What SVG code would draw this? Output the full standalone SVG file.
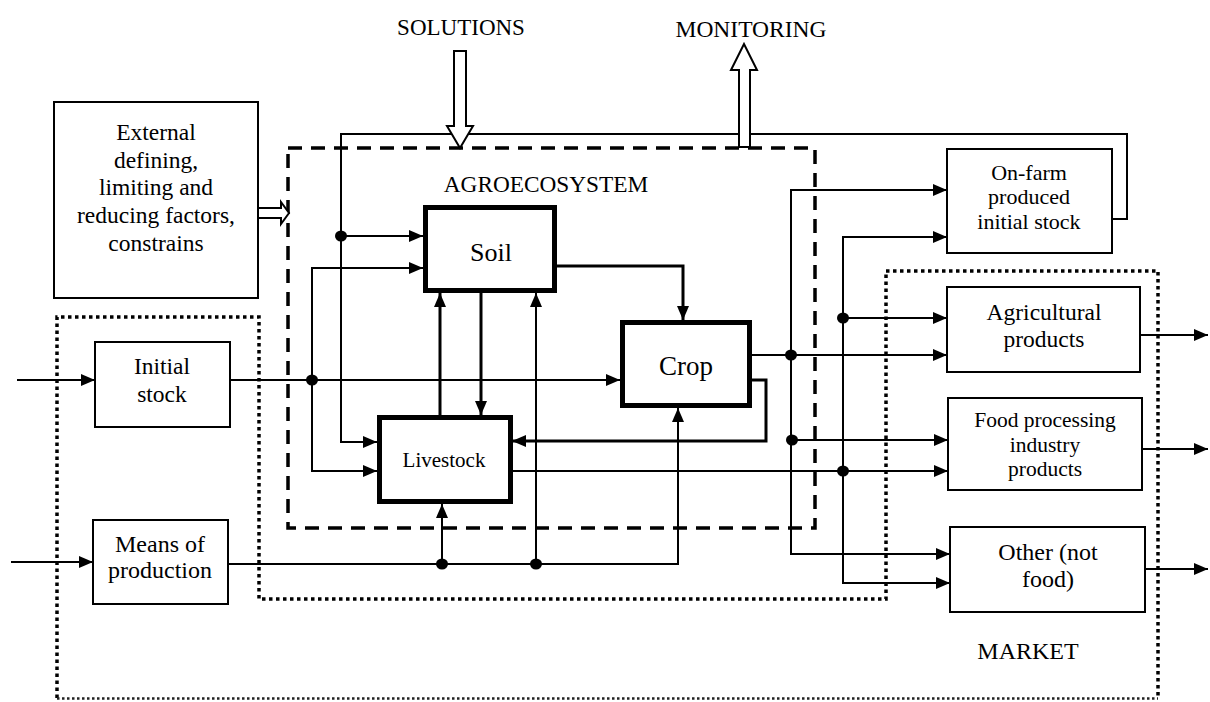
<svg xmlns="http://www.w3.org/2000/svg" width="1210" height="702" viewBox="0 0 1210 702">
<defs>
<marker id="arr" markerUnits="userSpaceOnUse" markerWidth="14" markerHeight="12" refX="14" refY="6" orient="auto">
<path d="M0,0 L14,6 L0,12 Z" fill="#000"/>
</marker>
<style>
text{font-family:'Liberation Serif','DejaVu Serif',serif;fill:#000;text-anchor:middle}
.box{fill:#fff;stroke:#000;stroke-width:2}
.thick{fill:#fff;stroke:#000;stroke-width:5}
.ln{fill:none;stroke:#000;stroke-width:2}
.ln3{fill:none;stroke:#000;stroke-width:3}
.a{marker-end:url(#arr)}
.hollow{fill:#fff;stroke:#000;stroke-width:2;stroke-linejoin:miter}
.dash{fill:none;stroke:#000;stroke-width:3.5;stroke-dasharray:14 9}
.dot{fill:none;stroke:#000;stroke-width:3.5;stroke-dasharray:3.5 3.5}
</style>
</defs>
<rect width="1210" height="702" fill="#fff"/>

<g id="market-outline">
<path class="dot" d="M57,698 V317 H259 V599 H886 V271 H1158 V698"/>
<path d="M57,698.5 H1158" fill="none" stroke="#222" stroke-width="2.5" stroke-dasharray="2.5 2.5"/>
</g>

<g id="agroecosystem">
<rect class="dash" x="288" y="148" width="527" height="380"/>
<text x="546" y="192" font-size="23.3">AGROECOSYSTEM</text>
</g>

<g id="connectors">
<path class="ln a" d="M1112,219 H1127 V134 H341 V442 H377"/>
<path class="ln a" d="M341,236 H423"/>
<path class="ln a" d="M312,380 V268 H423"/>
<path class="ln a" d="M312,380 V471 H377"/>
<path class="ln a" d="M229,380 H620"/>
<path class="ln3 a" d="M557,266 H683 V320"/>
<path class="ln3 a" d="M481,293 V415"/>
<path class="ln3 a" d="M440,415 V293"/>
<path class="ln a" d="M228,564 H678 V408"/>
<path class="ln a" d="M536,564 V293"/>
<path class="ln a" d="M442,564 V504"/>
<path class="ln3 a" d="M750,380 H766 V441 H512"/>
<path class="ln a" d="M750,355 H947"/>
<path class="ln a" d="M791,355 V190 H947"/>
<path class="ln a" d="M791,355 V554 H950"/>
<path class="ln a" d="M791,440 H948"/>
<path class="ln a" d="M512,471 H948"/>
<path class="ln a" d="M843,471 V237 H947"/>
<path class="ln a" d="M843,471 V583 H950"/>
<path class="ln a" d="M843,318 H947"/>
<path class="ln a" d="M1140,335 H1208"/>
<path class="ln a" d="M1142,449 H1208"/>
<path class="ln a" d="M1145,569 H1208"/>
<path class="ln a" d="M17,380 H95"/>
<path class="ln a" d="M11,562 H93"/>
<ellipse cx="341" cy="236" rx="6" ry="5.5"/>
<ellipse cx="312" cy="380" rx="6" ry="5.5"/>
<ellipse cx="442" cy="564" rx="6" ry="5.5"/>
<ellipse cx="536" cy="564" rx="6" ry="5.5"/>
<ellipse cx="791" cy="355" rx="6" ry="5.5"/>
<ellipse cx="792" cy="440" rx="6" ry="5.5"/>
<ellipse cx="843" cy="318" rx="6" ry="5.5"/>
<ellipse cx="843" cy="471" rx="6" ry="5.5"/>
<polygon class="hollow" points="454,51 466,51 466,126 473,126 460,148 447,126 454,126"/>
<polygon class="hollow" points="739,147 750,147 750,70 757,70 744,44 731,70 739,70"/>
<polygon class="hollow" points="258,208 281,208 281,202 289,213 281,224 281,218 258,218"/>
</g>

<g id="solutions"><text x="461" y="35" font-size="23">SOLUTIONS</text></g>
<g id="monitoring"><text x="751" y="37" font-size="23.5">MONITORING</text></g>

<g id="external">
<rect class="box" x="54" y="102" width="204" height="196"/>
<text font-size="23.5"><tspan x="156" y="140">External</tspan><tspan x="156" y="168">defining,</tspan><tspan x="156" y="195">limiting and</tspan><tspan x="156" y="223">reducing factors,</tspan><tspan x="156" y="251">constrains</tspan></text>
</g>

<g id="soil">
<rect class="thick" x="425.5" y="207.5" width="129" height="83"/>
<text x="491" y="261" font-size="26">Soil</text>
</g>
<g id="crop">
<rect class="thick" x="622.5" y="322.5" width="127" height="83"/>
<text x="686" y="375" font-size="27">Crop</text>
</g>
<g id="livestock">
<rect class="thick" x="379.5" y="417.5" width="131" height="84"/>
<text x="444" y="467" font-size="21">Livestock</text>
</g>

<g id="initial-stock">
<rect class="box" x="95" y="342" width="135" height="85"/>
<text font-size="23.5"><tspan x="162" y="374">Initial</tspan><tspan x="162" y="402">stock</tspan></text>
</g>
<g id="means">
<rect class="box" x="93" y="520" width="135" height="84"/>
<text font-size="24"><tspan x="160" y="552">Means of</tspan><tspan x="160" y="578">production</tspan></text>
</g>

<g id="onfarm">
<rect class="box" x="947" y="149" width="165" height="104"/>
<text font-size="22"><tspan x="1029" y="180">On-farm</tspan><tspan x="1029" y="204">produced</tspan><tspan x="1029" y="229">initial stock</tspan></text>
</g>
<g id="agri">
<rect class="box" x="947" y="287" width="193" height="85"/>
<text font-size="23.5"><tspan x="1044" y="320">Agricultural</tspan><tspan x="1044" y="347">products</tspan></text>
</g>
<g id="food">
<rect class="box" x="948" y="398" width="194" height="92"/>
<text font-size="21.5"><tspan x="1045" y="427">Food processing</tspan><tspan x="1045" y="452">industry</tspan><tspan x="1045" y="476">products</tspan></text>
</g>
<g id="other">
<rect class="box" x="950" y="527" width="195" height="85"/>
<text font-size="24"><tspan x="1048" y="560">Other (not</tspan><tspan x="1048" y="587">food)</tspan></text>
</g>
<g id="market"><text x="1028" y="659" font-size="24">MARKET</text></g>
</svg>
